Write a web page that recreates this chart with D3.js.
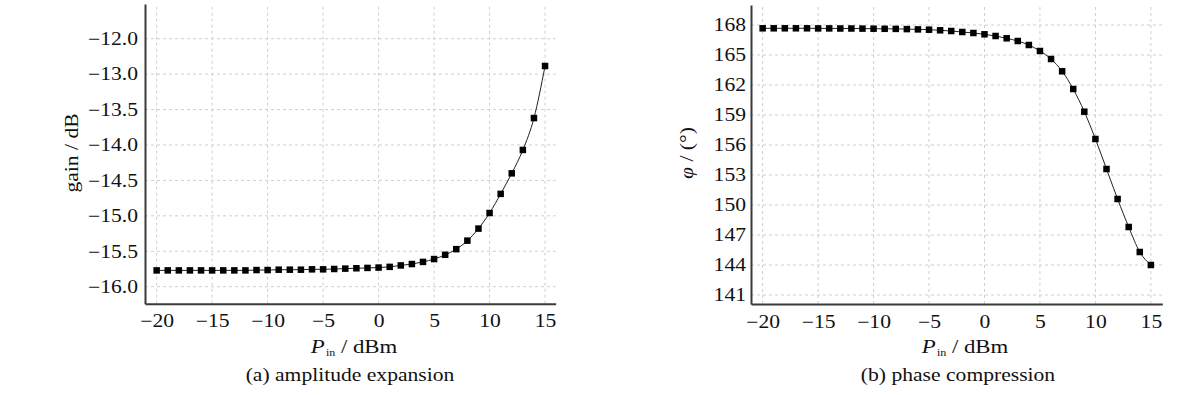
<!DOCTYPE html>
<html><head><meta charset="utf-8">
<script src="https://cdn.jsdelivr.net/npm/d3@7"></script>
<style>
body{margin:0;background:#fff}
svg{display:block}
text{font-family:"Liberation Serif","Times New Roman",serif;fill:#111}
</style>
</head><body>
<svg id="c" width="1191" height="395"></svg>
<script>
const pinValues = [-20,-19,-18,-17,-16,-15,-14,-13,-12,-11,-10,-9,-8,-7,-6,-5,-4,-3,-2,-1,0,1,2,3,4,5,6,7,8,9,10,11,12,13,14,15];
const gainValues = [-15.77,-15.77,-15.77,-15.77,-15.77,-15.77,-15.77,-15.77,-15.77,-15.765,-15.765,-15.76,-15.76,-15.76,-15.755,-15.755,-15.75,-15.745,-15.74,-15.735,-15.73,-15.72,-15.70,-15.68,-15.65,-15.61,-15.55,-15.47,-15.35,-15.18,-14.96,-14.69,-14.40,-14.07,-13.62,-12.885];
const phaseValues = [167.67,167.67,167.67,167.67,167.67,167.66,167.66,167.65,167.65,167.64,167.63,167.62,167.61,167.59,167.56,167.53,167.47,167.40,167.30,167.20,167.07,166.90,166.67,166.40,166.00,165.40,164.60,163.37,161.60,159.33,156.60,153.60,150.60,147.80,145.30,144.00];
const xTickValues = [-20,-15,-10,-5,0,5,10,15];
const xTickLabels = ["−20","−15","−10","−5","0","5","10","15"];
const gainTickValues = [-16,-15.5,-15,-14.5,-14,-13.5,-13,-12.5];
const gainTickLabels = ["−16.0","−15.5","−15.0","−14.5","−14.0","−13.5","−13.0","−12.0"];
const phaseTickValues = [141,144,147,150,153,156,159,162,165,168];
const phaseTickLabels = ["141","144","147","150","153","156","159","162","165","168"];
const captions = ["(a) amplitude expansion","(b) phase compression"];

const SX = 1.2;
const FONT = "'Liberation Serif','Times New Roman',serif";
const svg = d3.select("#c");

function panel(o){
  const x = d3.scaleLinear().domain(o.xDomain).range(o.xRange);
  const y = d3.scaleLinear().domain(o.yDomain).range(o.yRange);
  const g = svg.append("g");
  // grid
  g.append("g").selectAll("line").data(xTickValues).join("line")
    .attr("x1", d=>x(d)).attr("x2", d=>x(d))
    .attr("y1", o.yRange[0]).attr("y2", o.yRange[1])
    .attr("stroke","#cfcfcf").attr("stroke-width",1).attr("stroke-dasharray","3,3");
  g.append("g").selectAll("line").data(o.yTicks).join("line")
    .attr("y1", d=>y(d)).attr("y2", d=>y(d))
    .attr("x1", o.xRange[0]).attr("x2", o.xRange[1])
    .attr("stroke","#cfcfcf").attr("stroke-width",1).attr("stroke-dasharray","3,3");
  // axes
  const xa = g.append("g").attr("transform",`translate(0,${o.yRange[0]})`)
    .call(d3.axisBottom(x).tickValues(xTickValues).tickSize(0).tickPadding(11)
      .tickFormat((d,i)=>xTickLabels[i]));
  const ya = g.append("g").attr("transform",`translate(${o.xRange[0]},0)`)
    .call(d3.axisLeft(y).tickValues(o.yTicks).tickSize(0).tickPadding(o.yPad)
      .tickFormat((d,i)=>o.yLabels[i]));
  [xa,ya].forEach(a=>{
    a.attr("font-family",FONT).attr("font-size",18);
    a.select(".domain").attr("stroke","#3a3a3a").attr("stroke-width",2);
    a.selectAll("text").style("font-size","18px").attr("fill","#111")
      .style("font-family",FONT);
  });
  xa.selectAll("text").attr("transform",`scale(${SX},1)`);
  ya.selectAll("text").attr("x", -o.yPad/SX).attr("transform",`scale(${SX},1)`);
  // line
  const line = d3.line().x((d,i)=>x(pinValues[i])).y(d=>y(d)).curve(d3.curveMonotoneX);
  g.append("path").datum(o.values).attr("d",line).attr("fill","none")
    .attr("stroke","#222").attr("stroke-width",1);
  const s = 6.5;
  g.append("g").selectAll("rect").data(o.values).join("rect")
    .attr("x",(d,i)=>x(pinValues[i])-s/2).attr("y",d=>y(d)-s/2)
    .attr("width",s).attr("height",s).attr("fill","#000");
  // x title
  const xt = g.append("g").attr("transform",`translate(${o.xTitleX},353)`)
    .append("text").attr("text-anchor","middle").attr("transform",`scale(${SX},1)`)
    .style("font-size","19px");
  xt.append("tspan").text("P").style("font-style","italic");
  xt.append("tspan").text("in").style("font-size","10px").attr("dy","3").attr("dx","1");
  xt.append("tspan").text(" / dBm").attr("dy","-3");
  // y title
  const yt = g.append("g").attr("transform",`translate(${o.yTitleX},153) rotate(-90)`)
    .append("text").attr("text-anchor","middle").attr("transform",`scale(${SX},1)`)
    .style("font-size","18px");
  o.yTitle(yt);
  // caption
  g.append("g").attr("transform",`translate(${o.capX},381)`)
    .append("text").attr("text-anchor","middle").attr("transform",`scale(${SX},1)`)
    .style("font-size","18px").text(o.caption);
}

panel({
  xDomain:[-21.05,15.96], xRange:[145,555.7],
  yDomain:[-16.24,-12.01], yRange:[303.7,4],
  yTicks:gainTickValues, yLabels:gainTickLabels, yPad:7,
  values:gainValues, xTitleX:354, yTitleX:78, capX:350, caption:captions[0],
  yTitle:t=>t.text("gain / dB")
});
panel({
  xDomain:[-21.05,16.03], xRange:[751,1162.3],
  yDomain:[140.1,170.0], yRange:[304,5],
  yTicks:phaseTickValues, yLabels:phaseTickLabels, yPad:5,
  values:phaseValues, xTitleX:965, yTitleX:693, capX:958, caption:captions[1],
  yTitle:t=>{t.append("tspan").text("φ").style("font-style","italic"); t.append("tspan").text(" / (°)");}
});
</script>
</body></html>
